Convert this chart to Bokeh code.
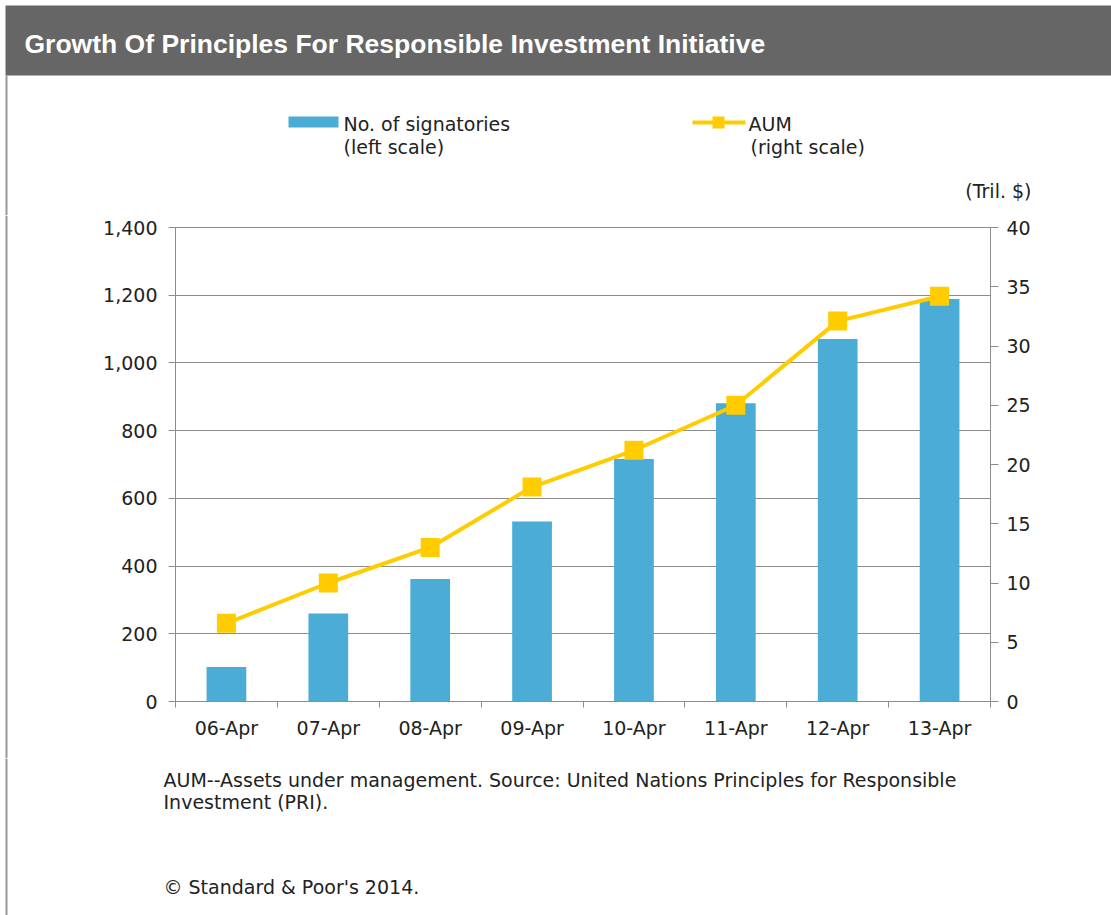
from bokeh.plotting import figure
from bokeh.layouts import column, row
from bokeh.models import (Range1d, LinearAxis, FixedTicker, Grid, NumeralTickFormatter)
from bokeh.core.properties import value
from bokeh.embed import file_html
from bokeh.resources import INLINE

# ---------------- data ----------------
categories = ["06-Apr", "07-Apr", "08-Apr", "09-Apr", "10-Apr", "11-Apr", "12-Apr", "13-Apr"]
signatories = [102, 260, 362, 532, 716, 881, 1071, 1189]
aum_tril = [6.6, 10.0, 13.0, 18.1, 21.2, 25.0, 32.1, 34.2]
left_ticks = [0, 200, 400, 600, 800, 1000, 1200, 1400]
right_ticks = [0, 5, 10, 15, 20, 25, 30, 35, 40]

title_text = "Growth Of Principles For Responsible Investment Initiative"
legend_bar = ["No. of signatories", "(left scale)"]
legend_line = ["AUM", "(right scale)"]
unit_text = "(Tril. $)"
footer_lines = ["AUM--Assets under management. Source: United Nations Principles for Responsible",
                "Investment (PRI).", "\u00a9 Standard & Poor's 2014."]

# ---------------- styles ----------------
BLUE = "#4BACD6"
YELLOW = "#FFCC00"
GRID = "#8C8C8C"
BORDER = "#999999"
BAR = "#666666"
TXT = "#222222"
FONT = "DejaVu Sans"
TITLE_FONT = "Liberation Sans"
FS = "19px"

W, H = 1111, 915
STRIP = 12
TOP_H = 215          # height of the header figure
MAIN_H = 543         # height of the chart figure
BOT_H = H - TOP_H - MAIN_H
MAIN_W = W - STRIP


def no_align(f):
    try:
        f.frame_align = False
    except Exception:
        pass
    return f


def blank(width, height):
    f = figure(width=width, height=height, output_backend="svg", toolbar_location=None,
               x_range=Range1d(0, width), y_range=Range1d(height, 0),
               x_axis_type=None, y_axis_type=None, min_border=0)
    f.outline_line_color = None
    f.background_fill_color = "white"
    f.border_fill_color = "white"
    return no_align(f)


def txt(f, x, y, text, size=FS, color=TXT, style="normal", align="left", font=FONT):
    f.text(x=[x], y=[y], text=[text], text_font=value(font), text_font_size=size,
           text_color=color, text_font_style=style, text_align=align,
           text_baseline="middle")


def border_strip(height):
    s = blank(STRIP, height)
    s.quad(left=[5], right=[7], top=[0], bottom=[height], fill_color=BORDER,
           line_color=None)
    return s


# ---------------- header ----------------
top = blank(W, TOP_H)
top.quad(left=[5], right=[W], top=[5], bottom=[75], fill_color=BAR, line_color=None)
top.quad(left=[5], right=[7], top=[75], bottom=[TOP_H], fill_color=BORDER, line_color=None)
txt(top, 24, 43, title_text, size="26.5px", color="white", style="bold", font=TITLE_FONT)
# legend
top.quad(left=[288], right=[338], top=[116], bottom=[127], fill_color=BLUE, line_color=None)
txt(top, 343, 123, legend_bar[0])
txt(top, 343, 146, legend_bar[1])
top.line(x=[692, 745], y=[122, 122], line_color=YELLOW, line_width=4)
top.scatter(x=[718], y=[122], marker="square", size=12, fill_color=YELLOW, line_color=None)
txt(top, 748, 123, legend_line[0])
txt(top, 750, 146, legend_line[1])
txt(top, 1031, 190, unit_text, align="right")

# ---------------- main chart ----------------
FL, FR = 175 - STRIP, 990 - STRIP          # frame left / right inside the chart figure
FT, FB = 227 - TOP_H, 701 - TOP_H          # frame top / bottom inside the chart figure

n = len(categories)
xs = [i + 0.5 for i in range(n)]

p = figure(width=MAIN_W, height=MAIN_H, output_backend="svg", toolbar_location=None,
           x_range=Range1d(0, n), y_range=Range1d(left_ticks[0], left_ticks[-1]),
           x_axis_type=None, y_axis_type=None,
           min_border_left=FL, min_border_right=MAIN_W - FR,
           min_border_top=FT, min_border_bottom=MAIN_H - FB)
no_align(p)
p.outline_line_color = GRID
p.outline_line_width = 1
p.background_fill_color = "white"
p.border_fill_color = "white"
p.extra_y_ranges = {"aum": Range1d(right_ticks[0], right_ticks[-1])}

p.add_layout(Grid(dimension=1, ticker=FixedTicker(ticks=left_ticks),
                  grid_line_color=GRID, grid_line_width=1))


def style_axis(ax):
    ax.axis_line_color = GRID
    ax.major_tick_line_color = GRID
    ax.minor_tick_line_color = None
    ax.major_tick_in = 0
    ax.major_label_text_font = FONT
    ax.major_label_text_font_size = FS
    ax.major_label_text_color = TXT


yl = LinearAxis(ticker=FixedTicker(ticks=left_ticks),
                formatter=NumeralTickFormatter(format="0,0"))
style_axis(yl)
yl.major_tick_out = 7
yl.major_label_standoff = 11
p.add_layout(yl, "left")

yr = LinearAxis(y_range_name="aum", ticker=FixedTicker(ticks=right_ticks))
style_axis(yr)
yr.major_tick_out = 8
yr.major_label_standoff = 8
p.add_layout(yr, "right")

xa = LinearAxis(ticker=FixedTicker(ticks=xs, minor_ticks=list(range(n + 1))),
                major_label_overrides={x: c for x, c in zip(xs, categories)})
style_axis(xa)
xa.major_tick_line_color = None
xa.major_tick_out = 0
xa.minor_tick_line_color = GRID
xa.minor_tick_out = 6
xa.minor_tick_in = 0
xa.major_label_standoff = 9
p.add_layout(xa, "below")

p.vbar(x=xs, top=signatories, width=0.39, bottom=0, fill_color=BLUE, line_color=None)
p.line(x=xs, y=aum_tril, y_range_name="aum", line_color=YELLOW, line_width=4)
p.scatter(x=xs, y=aum_tril, y_range_name="aum", marker="square", size=19,
          fill_color=YELLOW, line_color=None)

# ---------------- footer ----------------
bot = blank(MAIN_W, BOT_H)
fy0 = TOP_H + MAIN_H
txt(bot, 163 - STRIP, 779 - fy0, footer_lines[0])
txt(bot, 163 - STRIP, 801 - fy0, footer_lines[1])
txt(bot, 163 - STRIP, 886 - fy0, footer_lines[2])

layout = column(top,
                row(border_strip(MAIN_H), p, spacing=0),
                row(border_strip(BOT_H), bot, spacing=0),
                spacing=0)

open("out.html", "w").write(file_html(layout, INLINE))
